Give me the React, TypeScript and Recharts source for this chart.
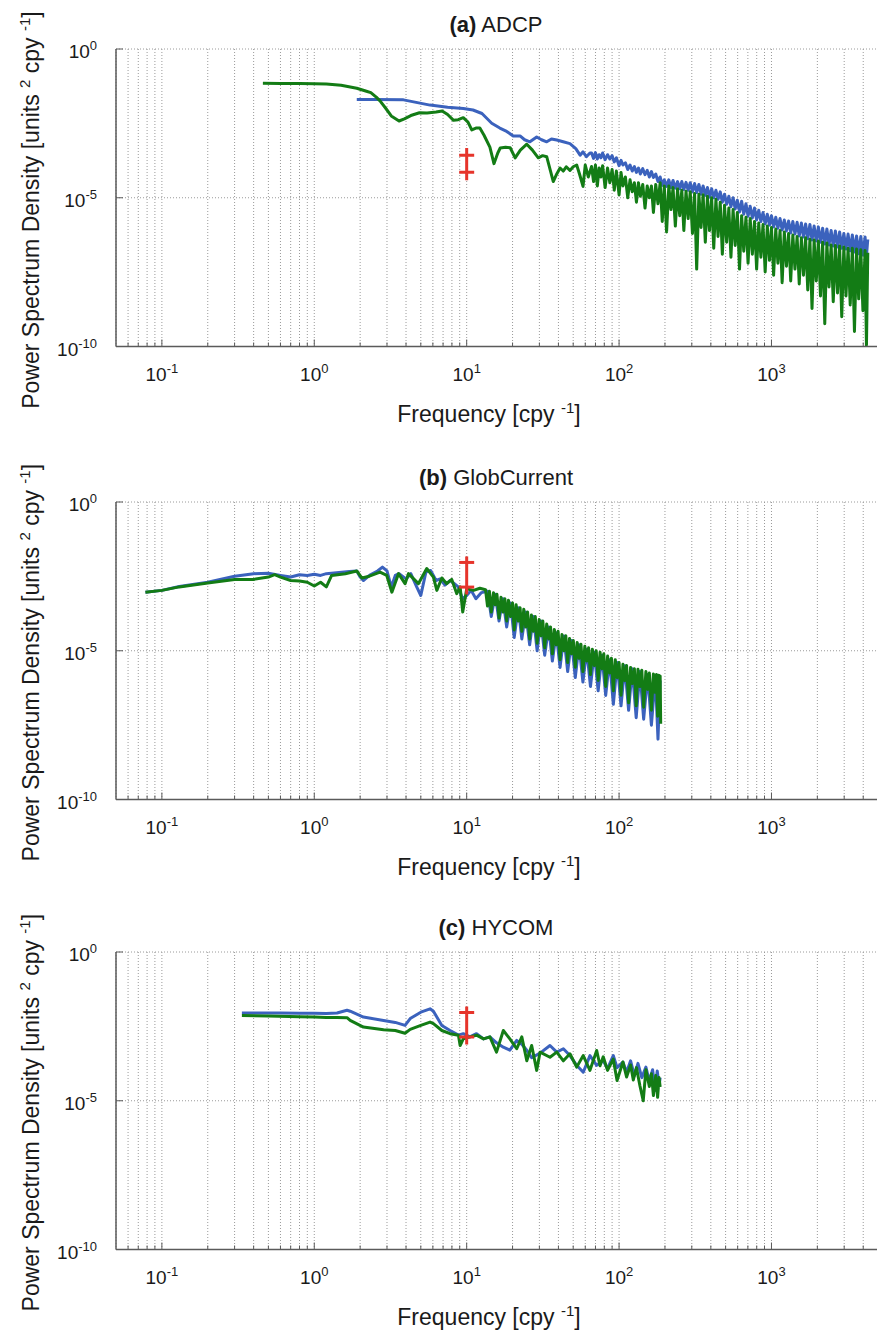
import React from 'react';
import { ComposedChart, Line, Scatter, XAxis, YAxis, CartesianGrid } from 'recharts';

type Pt = [number, number];

// ---------- axes ----------
const xGrid = [0.06, 0.07, 0.08, 0.09, 0.1, 0.2, 0.3, 0.4, 0.5, 0.6, 0.7, 0.8, 0.9, 1, 2, 3, 4, 5, 6, 7, 8, 9,
  10, 20, 30, 40, 50, 60, 70, 80, 90, 100, 200, 300, 400, 500, 600, 700, 800, 900, 1000, 2000, 3000, 4000];
const xMajor = [0.1, 1, 10, 100, 1000];
const xMajorLabels = ['-1', '0', '1', '2', '3'];
const yMajor = [1e-10, 1e-5, 1];
const yMajorLabels = ['-10', '-5', '0'];
const xDomain: [number, number] = [0.05, 5000];
const yDomain: [number, number] = [1e-10, 1];

// ---------- panel text ----------
const panelTags = ['(a)', '(b)', '(c)'];
const panelNames = ['ADCP', 'GlobCurrent', 'HYCOM'];
const xLabel = 'Frequency [cpy';
const yLabel = 'Power Spectrum Density [units';

// ---------- confidence markers at f = 10 (line top, upper cap, lower cap, line bottom) ----------
const ciFreq = 10;
const ciA = [4.7e-4, 2.7e-4, 7.2e-5, 3.9e-5];
const ciB = [1.48e-2, 9.3e-3, 1.38e-3, 7.8e-4];
const ciC = [1.48e-2, 9.3e-3, 1.38e-3, 7.8e-4];

// ---------- (a) ADCP ----------
const adcpBlue: Pt[] = [
  [1.9, 2.0e-2], [2.5, 2.0e-2], [3.85, 1.95e-2], [5.75, 1.3e-2], [7.5, 1.1e-2], [9.5, 1.0e-2], [11, 8.9e-3],
  [12.6, 6.8e-3], [14.6, 3.2e-3], [16.5, 2.2e-3], [18.3, 1.7e-3], [20.2, 1.2e-3], [22.4, 1.2e-3], [24, 8.9e-4],
  [26, 7.6e-4], [28.8, 1.1e-3], [31, 8.9e-4], [33.5, 7.6e-4], [36, 9.5e-4], [39, 8.7e-4], [43, 7.6e-4],
  [47.6, 6.6e-4], [52, 4.5e-4], [55.5, 2.7e-4], [58, 3.5e-4], [61, 2.4e-4], [64.4, 3.2e-4],
  [66, 3.2e-4], [68, 2.1e-4], [70, 3.3e-4], [72, 2.0e-4], [74, 2.8e-4], [76, 2.2e-4], [78, 3.2e-4], [81, 1.9e-4],
  [84, 2.8e-4], [87, 2.0e-4], [90, 2.6e-4], [93, 1.6e-4], [96, 2.2e-4], [100, 1.2e-4], [103, 1.8e-4],
  [106, 1.26e-4], [110, 1.5e-4], [114, 8.9e-5], [118, 1.26e-4], [122, 7.9e-5], [126, 1.12e-4], [130, 7.1e-5],
  [134, 1.0e-4], [138, 6.3e-5], [143, 9.5e-5], [148, 6.0e-5], [153, 8.3e-5], [158, 5.0e-5], [163, 7.6e-5],
  [168, 4.8e-5], [174, 6.3e-5], [180, 3.5e-5], [186, 5.0e-5], [192, 2.6e-5], [198, 4.0e-5], [205, 2.4e-5],
  [212, 4.0e-5], [219, 2.2e-5], [226, 3.8e-5], [234, 2.1e-5], [242, 3.5e-5], [250, 2.0e-5], [258, 3.5e-5],
  [266, 1.9e-5], [275, 3.3e-5], [284, 1.78e-5], [293, 3.2e-5], [303, 1.58e-5], [313, 3.0e-5], [323, 1.5e-5],
  [334, 2.8e-5], [345, 1.32e-5], [356, 2.5e-5], [368, 1.2e-5], [380, 2.2e-5], [392, 1.05e-5], [405, 2.0e-5],
  [418, 1.0e-5], [432, 1.78e-5], [446, 8.9e-6], [461, 1.58e-5], [476, 7.1e-6], [492, 1.32e-5], [508, 6.0e-6],
  [525, 1.12e-5], [542, 5.0e-6], [560, 1.0e-5], [578, 4.2e-6], [597, 8.3e-6], [617, 3.3e-6], [637, 7.6e-6],
  [658, 2.8e-6], [680, 6.3e-6], [702, 2.4e-6], [725, 5.2e-6], [749, 2.1e-6], [774, 4.5e-6], [799, 1.78e-6],
  [825, 3.8e-6], [852, 1.58e-6], [880, 3.2e-6], [909, 1.32e-6], [939, 2.8e-6], [970, 1.2e-6], [1000, 2.5e-6],
  [1033, 1.05e-6], [1067, 2.2e-6], [1102, 9.5e-7], [1138, 2.0e-6], [1175, 8.3e-7], [1214, 1.78e-6],
  [1254, 7.6e-7], [1295, 1.66e-6], [1337, 6.6e-7], [1381, 1.58e-6], [1426, 6.0e-7], [1473, 1.5e-6],
  [1521, 5.2e-7], [1571, 1.41e-6], [1622, 4.8e-7], [1675, 1.32e-6], [1730, 4.2e-7], [1787, 1.26e-6],
  [1845, 3.8e-7], [1905, 1.12e-6], [1967, 3.5e-7], [2031, 1.05e-6], [2097, 3.2e-7], [2166, 9.5e-7],
  [2237, 2.8e-7], [2310, 8.9e-7], [2385, 2.6e-7], [2463, 7.9e-7], [2543, 2.4e-7], [2626, 7.6e-7],
  [2712, 2.2e-7], [2800, 7.1e-7], [2891, 2.0e-7], [2985, 6.3e-7], [3082, 1.9e-7], [3182, 6.0e-7],
  [3286, 1.66e-7], [3393, 5.6e-7], [3503, 1.5e-7], [3617, 5.2e-7], [3735, 1.32e-7], [3857, 5.0e-7],
  [3982, 1.2e-7], [4112, 4.8e-7], [4200, 1.12e-7], [4285, 4.0e-7],
];
const adcpGreen: Pt[] = [
  [0.46, 7.0e-2], [0.6, 6.9e-2], [0.8, 6.9e-2], [1.0, 6.8e-2], [1.2, 6.6e-2], [1.5, 6.0e-2], [1.9, 4.8e-2],
  [2.2, 3.8e-2], [2.35, 3.4e-2], [2.55, 2.4e-2], [2.7, 1.8e-2], [2.95, 1.0e-2], [3.2, 5.6e-3], [3.6, 3.8e-3],
  [3.9, 4.5e-3], [4.3, 5.8e-3], [4.9, 7.2e-3], [5.5, 7.1e-3], [6.3, 7.6e-3], [6.9, 8.3e-3], [7.5, 6.3e-3],
  [8.2, 4.0e-3], [8.8, 4.2e-3], [9.5, 4.9e-3], [10.2, 3.5e-3], [10.8, 1.9e-3], [11.5, 2.2e-3], [12.2, 2.2e-3],
  [13, 1.26e-3], [14.2, 5.0e-4], [15.1, 1.4e-4], [16, 3.2e-4], [16.6, 4.7e-4], [18, 5.0e-4], [19.3, 4.8e-4],
  [20.8, 2.2e-4], [22.5, 4.0e-4], [24.8, 6.3e-4], [27, 4.0e-4], [29.5, 2.2e-4], [31.5, 2.6e-4], [33.5, 2.4e-4],
  [35.5, 7.9e-5], [37, 3.5e-5], [39, 6.3e-5], [41, 1.0e-4], [43, 7.9e-5], [45, 1.1e-4], [47.6, 8.3e-5],
  [50, 1.1e-4], [52.7, 1.26e-4], [55, 6.3e-5], [58, 2.4e-5], [60, 1.26e-4], [62.8, 5.0e-5],
  [66, 1.12e-4], [68, 3.5e-5], [70, 1.26e-4], [72, 2.5e-5], [74, 1.0e-4], [76, 5.0e-5], [78, 1.2e-4],
  [81, 2.2e-5], [84, 1.0e-4], [87, 3.2e-5], [90, 8.9e-5], [93, 1.8e-5], [96, 7.9e-5], [100, 1.26e-5],
  [103, 7.1e-5], [106, 2.5e-5], [110, 5.0e-5], [114, 1.0e-5], [118, 4.0e-5], [122, 1.6e-5], [126, 3.2e-5],
  [130, 7.1e-6], [134, 3.2e-5], [138, 1.12e-5], [143, 2.8e-5], [148, 4.5e-6], [153, 2.5e-5], [158, 1.0e-5],
  [163, 2.5e-5], [168, 3.2e-6], [174, 2.8e-5], [180, 6.3e-6], [186, 3.2e-5], [192, 1.6e-6], [198, 2.5e-5],
  [205, 7.1e-7], [212, 2.5e-5], [219, 4.0e-6], [226, 2.2e-5], [234, 1.12e-6], [242, 2.0e-5], [250, 2.5e-6],
  [258, 1.8e-5], [266, 7.9e-7], [275, 1.66e-5], [284, 2.0e-6], [293, 1.6e-5], [303, 6.3e-7], [313, 1.4e-5],
  [323, 4.0e-8], [334, 1.32e-5], [345, 1.0e-6], [356, 1.26e-5], [368, 3.2e-7], [380, 1.12e-5], [392, 7.9e-7],
  [405, 1.0e-5], [418, 2.0e-7], [432, 8.9e-6], [446, 5.0e-7], [461, 7.1e-6], [476, 1.26e-7], [492, 5.6e-6],
  [508, 3.2e-7], [525, 4.5e-6], [542, 1.0e-7], [560, 4.0e-6], [578, 2.5e-7], [597, 3.2e-6], [617, 4.0e-8],
  [637, 2.5e-6], [658, 1.6e-7], [680, 2.2e-6], [702, 6.3e-8], [725, 2.0e-6], [749, 1.26e-7], [774, 1.6e-6],
  [799, 4.0e-8], [825, 1.41e-6], [852, 1.0e-7], [880, 1.26e-6], [909, 3.2e-8], [939, 1.12e-6], [970, 7.9e-8],
  [1000, 1.0e-6], [1033, 2.5e-8], [1067, 8.9e-7], [1102, 6.3e-8], [1138, 7.9e-7], [1175, 1.4e-8],
  [1214, 7.1e-7], [1254, 5.0e-8], [1295, 6.3e-7], [1337, 1.6e-8], [1381, 5.6e-7], [1426, 4.0e-8],
  [1473, 5.0e-7], [1521, 1.26e-8], [1571, 4.5e-7], [1622, 2.5e-8], [1675, 4.5e-7], [1730, 7.9e-9],
  [1787, 4.0e-7], [1845, 1.9e-9], [1905, 3.8e-7], [1967, 1.6e-8], [2031, 3.5e-7], [2097, 5.0e-9],
  [2166, 3.2e-7], [2237, 5.8e-10], [2310, 3.0e-7], [2385, 1.0e-8], [2463, 2.6e-7], [2543, 3.2e-9],
  [2626, 2.5e-7], [2712, 6.3e-9], [2800, 2.4e-7], [2891, 1.0e-9], [2985, 2.2e-7], [3082, 5.0e-9],
  [3182, 2.0e-7], [3286, 2.5e-9], [3393, 2.0e-7], [3503, 3.2e-10], [3617, 1.9e-7], [3735, 4.0e-9],
  [3857, 1.78e-7], [3982, 1.6e-9], [4112, 1.7e-7], [4200, 1.07e-10], [4285, 1.41e-7],
];

// ---------- (b) GlobCurrent ----------
const globBlue: Pt[] = [
  [0.078, 9.3e-4], [0.1, 1.07e-3], [0.13, 1.45e-3], [0.2, 2.0e-3], [0.3, 3.2e-3], [0.4, 3.9e-3], [0.5, 4.0e-3],
  [0.6, 3.4e-3], [0.7, 3.0e-3], [0.8, 3.6e-3], [0.9, 3.4e-3], [1.0, 3.7e-3], [1.1, 3.4e-3], [1.2, 3.9e-3],
  [1.4, 4.2e-3], [1.7, 4.6e-3], [1.9, 4.8e-3], [2.0, 3.0e-3], [2.1, 2.3e-3], [2.3, 3.4e-3], [2.6, 4.8e-3],
  [2.8, 6.5e-3], [3.0, 4.8e-3], [3.2, 1.4e-3], [3.4, 3.4e-3], [3.6, 3.9e-3], [4.0, 2.6e-3], [4.3, 3.9e-3],
  [4.7, 1.4e-3], [5.0, 7.2e-4], [5.4, 4.4e-3], [5.8, 5.0e-3], [6.3, 2.3e-3], [6.7, 2.6e-3], [7.2, 1.6e-3],
  [7.8, 2.3e-3], [8.3, 1.8e-3], [8.8, 1.4e-3], [9.4, 5.6e-4], [10, 7.2e-4], [10.7, 1.07e-3], [11.5, 5.6e-4],
  [12.5, 9.0e-4], [13.7, 1.0e-3], [14.5, 1.41e-4], [15.4, 7.9e-4], [16.3, 1.0e-4], [17.3, 5.6e-4],
  [18.3, 6.3e-5], [19.4, 4.0e-4], [20.5, 2.8e-5], [21.8, 2.8e-4], [23.0, 2.5e-5], [24.4, 2.0e-4],
  [25.9, 1.58e-5], [27.4, 1.41e-4], [29.0, 1.0e-5], [30.7, 1.0e-4], [32.5, 7.1e-6], [34.5, 6.3e-5],
  [36.5, 4.5e-6], [38.7, 4.0e-5], [41.0, 2.75e-6], [43.4, 3.16e-5], [46.0, 2.0e-6], [48.7, 2.2e-5],
  [51.6, 1.26e-6], [54.6, 1.58e-5], [57.9, 8.9e-7], [61.3, 1.12e-5], [64.9, 6.3e-7], [68.8, 8.9e-6],
  [72.9, 4.5e-7], [77.2, 7.1e-6], [81.7, 3.16e-7], [86.6, 5.0e-6], [91.7, 1.58e-7], [97.2, 4.0e-6],
  [103, 1.41e-7], [109, 3.16e-6], [115.5, 1.0e-7], [122, 2.5e-6], [129.5, 5.6e-8], [137, 2.0e-6],
  [145, 5.0e-8], [154, 1.58e-6], [163, 3.16e-8], [173, 1.41e-6], [180, 1.07e-8], [186, 1.0e-6],
];
const globGreen: Pt[] = [
  [0.078, 9.3e-4], [0.1, 1.07e-3], [0.13, 1.4e-3], [0.2, 1.9e-3], [0.3, 2.5e-3], [0.4, 2.5e-3], [0.5, 3.0e-3],
  [0.55, 3.6e-3], [0.6, 3.0e-3], [0.7, 2.3e-3], [0.8, 2.2e-3], [0.9, 2.0e-3], [1.0, 1.5e-3], [1.1, 2.0e-3],
  [1.2, 1.4e-3], [1.3, 3.4e-3], [1.6, 3.9e-3], [1.9, 4.8e-3], [2.05, 2.8e-3], [2.3, 3.2e-3], [2.7, 4.4e-3],
  [2.99, 3.4e-3], [3.23, 9.3e-4], [3.57, 3.9e-3], [3.94, 1.8e-3], [4.15, 3.9e-3], [4.82, 1.8e-3],
  [5.47, 5.8e-3], [6.05, 3.0e-3], [6.37, 1.07e-3], [6.87, 2.8e-3], [7.40, 1.8e-3], [7.98, 2.5e-3],
  [8.61, 8.3e-4], [9.06, 1.4e-3], [9.42, 2.0e-4], [10.0, 1.2e-3], [11.1, 1.07e-3], [12.2, 1.26e-3],
  [13.3, 1.12e-3], [13.7, 3.2e-4], [14.1, 1.0e-3], [14.5, 2.0e-4], [15.0, 8.9e-4], [15.4, 3.5e-4],
  [15.8, 7.9e-4], [16.3, 1.26e-4], [16.8, 6.3e-4], [17.3, 2.0e-4], [17.8, 5.6e-4], [18.3, 1.0e-4],
  [18.8, 5.0e-4], [19.4, 1.41e-4], [20.0, 4.0e-4], [20.5, 5.0e-5], [21.1, 3.5e-4], [21.8, 1.0e-4],
  [22.4, 2.8e-4], [23.0, 4.5e-5], [23.7, 2.5e-4], [24.4, 6.3e-5], [25.1, 2.0e-4], [25.9, 2.5e-5],
  [26.6, 1.58e-4], [27.4, 4.5e-5], [28.2, 1.41e-4], [29.0, 1.8e-5], [29.9, 1.12e-4], [30.7, 3.2e-5],
  [31.6, 1.0e-4], [32.5, 1.26e-5], [33.5, 7.9e-5], [34.5, 2.5e-5], [35.5, 6.3e-5], [36.5, 7.9e-6],
  [37.6, 5.2e-5], [38.7, 1.58e-5], [39.8, 4.5e-5], [41.0, 5.0e-6], [42.2, 3.5e-5], [43.4, 1.0e-5],
  [44.7, 3.2e-5], [46.0, 4.0e-6], [47.3, 2.6e-5], [48.7, 7.9e-6], [50.1, 2.2e-5], [51.6, 2.8e-6],
  [53.1, 1.9e-5], [54.6, 5.6e-6], [56.2, 1.66e-5], [57.9, 2.0e-6], [59.6, 1.41e-5], [61.3, 4.5e-6],
  [63.1, 1.26e-5], [64.9, 1.58e-6], [66.8, 1.12e-5], [68.8, 3.2e-6], [70.8, 1.0e-5], [72.9, 1.0e-6],
  [75.0, 8.9e-6], [77.2, 2.5e-6], [79.4, 7.9e-6], [81.7, 6.3e-7], [84.1, 6.6e-6], [86.6, 1.78e-6],
  [89.1, 5.6e-6], [91.7, 4.5e-7], [94.4, 5.0e-6], [97.2, 1.26e-6], [100, 4.0e-6], [103, 3.2e-7],
  [106, 3.5e-6], [109, 1.0e-6], [112, 3.2e-6], [115.5, 1.78e-7], [119, 2.75e-6], [122, 7.9e-7],
  [126, 2.5e-6], [129.5, 1.41e-7], [133, 2.4e-6], [137, 6.3e-7], [141, 2.2e-6], [145, 1.26e-7],
  [150, 2.0e-6], [154, 5.0e-7], [158, 1.78e-6], [163, 1.0e-7], [168, 1.66e-6], [172, 4.0e-7],
  [176, 1.58e-6], [179, 6.3e-8], [182, 1.5e-6], [184, 2.5e-7], [186, 1.41e-6], [187.5, 3.5e-8],
];

// ---------- (c) HYCOM ----------
const hycomBlue: Pt[] = [
  [0.335, 8.9e-3], [0.45, 8.9e-3], [0.6, 8.9e-3], [0.8, 8.7e-3], [1.0, 8.7e-3], [1.2, 8.5e-3], [1.41, 8.9e-3],
  [1.64, 1.1e-2], [1.72, 1.02e-2], [2.10, 6.5e-3], [2.85, 5.0e-3], [3.4, 4.3e-3], [3.94, 3.4e-3], [4.26, 5.8e-3],
  [5.0, 9.5e-3], [5.75, 1.23e-2], [6.05, 1.02e-2], [6.87, 3.4e-3], [7.78, 2.3e-3], [8.83, 1.6e-3], [9.5, 1.8e-3],
  [10.5, 1.4e-3], [11.6, 1.8e-3], [12.9, 1.2e-3], [14.2, 1.4e-3], [15.7, 8.9e-4], [17.4, 6.3e-4], [19.2, 5.0e-4],
  [21.3, 1.07e-3], [23.0, 7.9e-4], [24.8, 5.0e-4], [26.7, 2.8e-4], [30.3, 4.0e-4], [35.2, 7.2e-4], [39.0, 4.3e-4],
  [43.1, 5.6e-4], [47.6, 3.3e-4], [52.7, 1.55e-4], [58.2, 9.1e-5], [64.4, 3.3e-4], [71.3, 1.55e-4],
  [78.7, 2.2e-4], [84, 1.2e-4], [91.6, 3.3e-4], [97, 1.3e-4], [106, 2.0e-4], [112, 9.1e-5], [119, 2.2e-4],
  [126, 7.0e-5], [133, 1.8e-4], [141, 6.0e-5], [150, 1.35e-4], [158, 4.5e-5], [166, 1.1e-4], [172, 2.2e-5],
  [178, 1.0e-4], [183, 3.2e-5], [186, 6.0e-5],
];
const hycomGreen: Pt[] = [
  [0.335, 7.4e-3], [0.5, 7.1e-3], [0.8, 6.6e-3], [1.0, 6.5e-3], [1.2, 6.3e-3], [1.41, 6.3e-3], [1.64, 6.2e-3],
  [1.72, 5.0e-3], [2.10, 3.0e-3], [2.85, 2.45e-3], [3.4, 2.3e-3], [3.94, 1.86e-3], [4.26, 2.5e-3], [5.0, 3.4e-3],
  [5.75, 4.4e-3], [6.05, 3.9e-3], [6.87, 2.3e-3], [7.78, 1.8e-3], [8.83, 1.6e-3], [9.06, 7.2e-4], [9.5, 1.2e-3],
  [10.5, 1.4e-3], [11.6, 1.6e-3], [12.9, 1.2e-3], [14.2, 1.4e-3], [15.7, 4.3e-4], [17.4, 2.3e-3], [19.2, 1.2e-3],
  [21.3, 5.6e-4], [23.0, 1.4e-3], [24.8, 2.2e-4], [26.7, 7.2e-4], [28.8, 1.05e-4], [30.3, 4.3e-4],
  [35.2, 2.9e-4], [39.0, 4.3e-4], [43.1, 2.2e-4], [47.6, 3.8e-4], [52.7, 1.35e-4], [58.2, 3.3e-4],
  [64.4, 1.05e-4], [71.3, 4.9e-4], [75, 1.5e-4], [78.7, 3.0e-4], [84, 1.05e-4], [91.6, 2.5e-4], [97, 4.8e-5],
  [106, 2.0e-4], [112, 6.3e-5], [119, 1.6e-4], [124, 5.0e-5], [130, 1.3e-4], [137, 3.2e-5], [144, 1.0e-5],
  [150, 1.1e-4], [158, 3.0e-5], [163, 8.1e-5], [168, 1.5e-5], [174, 7.0e-5], [179, 1.3e-5], [183, 6.0e-5],
  [186, 2.9e-5],
];

// ---------- style ----------
const FONT = '"Liberation Sans", Arial, Helvetica, sans-serif';
const BLUE = '#3b62bd';
const GREEN = '#137c15';
const RED = '#e6342b';
const AXIS = '#5a5a5a';
const GRID = '#9a9a9a';
const Y_AXIS_W = 60;
const X_AXIS_H = 30;
const PLOT_LEFT = 116;
const PLOT_TOP = 49;
const PLOT_H = 297.5;
const CHART_W = 880;
const PLOT_BOTTOM_MARGIN = 94;
const CHART_H = PLOT_TOP + PLOT_H + PLOT_BOTTOM_MARGIN;
const panelTops = [49, 501.7, 951.7];

const majorIndex = (arr: number[], v: number) =>
  arr.findIndex((m) => Math.abs(Math.log10(m) - Math.log10(v)) < 1e-6);

const XTick = (props: any) => {
  const { x, y, payload } = props;
  const i = majorIndex(xMajor, payload.value);
  const major = i >= 0;
  return (
    <g>
      <line x1={x} x2={x} y1={y} y2={y - (major ? 7 : 4)} stroke={AXIS} strokeWidth={1} />
      {major && (
        <text x={x} y={y + 34} textAnchor="middle" fontFamily={FONT} fontSize={19} fill="#1a1a1a">
          10<tspan dy={-8} fontSize={13}>{xMajorLabels[i]}</tspan>
        </text>
      )}
    </g>
  );
};

const YTick = (props: any) => {
  const { x, y, payload } = props;
  const i = majorIndex(yMajor, payload.value);
  return (
    <g>
      <line x1={x} x2={x + 7} y1={y} y2={y} stroke={AXIS} strokeWidth={1} />
      <text x={x - 19} y={y + 9} textAnchor="end" fontFamily={FONT} fontSize={19} fill="#1a1a1a">
        10<tspan dy={-8} fontSize={13}>{yMajorLabels[i]}</tspan>
      </text>
    </g>
  );
};

const CapShape = (props: any) => {
  const { cx, cy } = props;
  return <line x1={cx - 7.5} x2={cx + 7.5} y1={cy} y2={cy} stroke={RED} strokeWidth={3} />;
};

const rows = (pts: Pt[]) => pts.map(([f, p]) => ({ f, p }));

function Panel({ top, blue, green, ci }: { top: number; blue: Pt[]; green: Pt[]; ci: number[] }) {
  const ciLine = [{ f: ciFreq, p: ci[0] }, { f: ciFreq, p: ci[3] }];
  const ciCaps = [{ f: ciFreq, p: ci[1] }, { f: ciFreq, p: ci[2] }];
  return (
    <div style={{ position: 'absolute', left: 0, top: top - PLOT_TOP }}>
      <ComposedChart
        width={CHART_W}
        height={CHART_H}
        margin={{
          top: PLOT_TOP,
          right: CHART_W - 878,
          bottom: PLOT_BOTTOM_MARGIN - X_AXIS_H,
          left: PLOT_LEFT - Y_AXIS_W,
        }}
      >
        <CartesianGrid stroke={GRID} strokeDasharray="1 2" strokeWidth={1} />
        <XAxis
          dataKey="f"
          type="number"
          scale="log"
          domain={xDomain}
          allowDataOverflow
          ticks={xGrid}
          interval={0}
          height={X_AXIS_H}
          tickSize={0}
          tickMargin={0}
          tickLine={false}
          tick={<XTick />}
          axisLine={{ stroke: AXIS, strokeWidth: 1.5 }}
        />
        <YAxis
          dataKey="p"
          type="number"
          scale="log"
          domain={yDomain}
          allowDataOverflow
          ticks={yMajor}
          interval={0}
          width={Y_AXIS_W}
          tickSize={0}
          tickMargin={0}
          tickLine={false}
          tick={<YTick />}
          axisLine={{ stroke: AXIS, strokeWidth: 1.5 }}
        />
        <Line data={rows(blue)} dataKey="p" type="linear" stroke={BLUE} strokeWidth={3} dot={false}
          isAnimationActive={false} strokeLinejoin="round" />
        <Line data={rows(green)} dataKey="p" type="linear" stroke={GREEN} strokeWidth={3} dot={false}
          isAnimationActive={false} strokeLinejoin="round" />
        <Line data={ciLine} dataKey="p" type="linear" stroke={RED} strokeWidth={3} dot={false}
          isAnimationActive={false} />
        <Scatter data={ciCaps} dataKey="p" shape={<CapShape />} isAnimationActive={false} />
      </ComposedChart>
    </div>
  );
}

function Labels() {
  return (
    <svg width={877} height={1333} style={{ position: 'absolute', left: 0, top: 0, pointerEvents: 'none' }}>
      {panelTops.map((t, i) => (
        <g key={i} fontFamily={FONT} fill="#1a1a1a">
          <text x={496} y={t - 17} textAnchor="middle" fontSize={22}>
            <tspan fontWeight="bold">{panelTags[i]}</tspan> {panelNames[i]}
          </text>
          <text x={489} y={t + PLOT_H + 75.5} textAnchor="middle" fontSize={23}>
            {xLabel} <tspan dy={-9} fontSize={15}>-1</tspan><tspan dy={9}>]</tspan>
          </text>
          <text x={39} y={t + 161} textAnchor="middle" fontSize={23} transform={`rotate(-90 39 ${t + 161})`}>
            {yLabel} <tspan dy={-9} fontSize={15}>2</tspan><tspan dy={9}> cpy </tspan>
            <tspan dy={-9} fontSize={15}>-1</tspan><tspan dy={9}>]</tspan>
          </text>
        </g>
      ))}
    </svg>
  );
}

export default function App() {
  const blues = [adcpBlue, globBlue, hycomBlue];
  const greens = [adcpGreen, globGreen, hycomGreen];
  const cis = [ciA, ciB, ciC];
  return (
    <div style={{ position: 'absolute', left: 0, top: 0, width: 877, height: 1333, overflow: 'hidden', background: '#fff' }}>
      {panelTops.map((t, i) => (
        <Panel key={i} top={t} blue={blues[i]} green={greens[i]} ci={cis[i]} />
      ))}
      <Labels />
    </div>
  );
}
